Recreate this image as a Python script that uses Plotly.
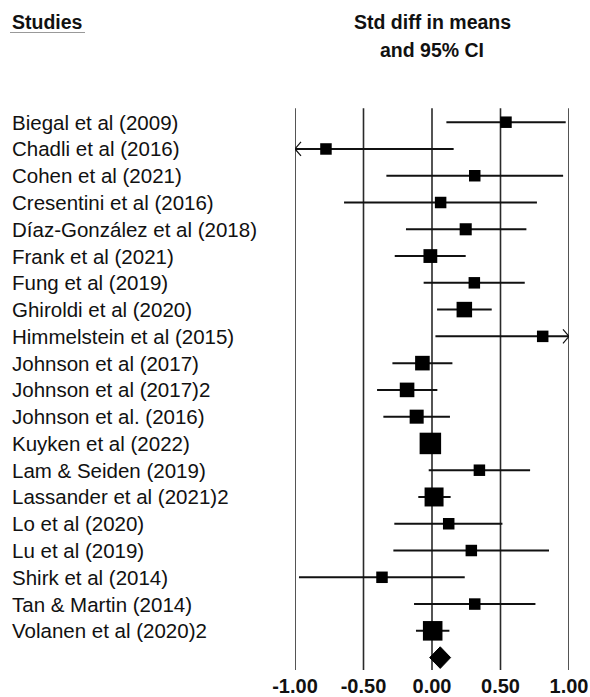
import plotly.graph_objects as go

# ---------------- data ----------------
studies = [
    "Biegal et al (2009)", "Chadli et al (2016)", "Cohen et al (2021)",
    "Cresentini et al (2016)", "Díaz-González et al (2018)", "Frank et al (2021)",
    "Fung et al (2019)", "Ghiroldi et al (2020)", "Himmelstein et al (2015)",
    "Johnson et al (2017)", "Johnson et al (2017)2", "Johnson et al. (2016)",
    "Kuyken et al (2022)", "Lam & Seiden (2019)", "Lassander et al (2021)2",
    "Lo et al (2020)", "Lu et al (2019)", "Shirk et al (2014)",
    "Tan & Martin (2014)", "Volanen et al (2020)2",
]
std_diff = [0.54, -0.774, 0.312, 0.063, 0.246, -0.012, 0.309, 0.236, 0.808, -0.070,
            -0.182, -0.112, -0.012, 0.346, 0.015, 0.122, 0.287, -0.365, 0.312, 0.005]
# values beyond the axis (<= -1 or >= 1) are shown clipped with an arrow
ci_lower = [0.105, -1.00, -0.333, -0.642, -0.190, -0.272, -0.061, 0.037, 0.025, -0.289,
            -0.401, -0.355, -0.070, -0.024, -0.100, -0.275, -0.282, -0.971, -0.131, -0.117]
ci_upper = [0.976, 0.158, 0.957, 0.766, 0.689, 0.246, 0.677, 0.436, 1.00, 0.149,
            0.039, 0.131, 0.050, 0.716, 0.136, 0.514, 0.854, 0.239, 0.755, 0.127]
relative_weight = [1.0, 1.0, 1.0, 1.0, 1.05, 1.2, 1.0, 1.35, 1.0, 1.27,
                   1.27, 1.22, 1.87, 1.0, 1.65, 1.0, 1.0, 1.0, 1.0, 1.7]
overall = {"est": 0.060, "lo": -0.017, "hi": 0.136}
tick_vals = [-1.0, -0.5, 0.0, 0.5, 1.0]
tick_text = ["-1.00", "-0.50", "0.00", "0.50", "1.00"]

# ---------------- layout constants ----------------
W, H = 590, 697
FONT = "Liberation Sans, Arial, sans-serif"
row_top_px, row_step_px = 122.2, 26.77
plot_top_px, plot_bot_px = 108.3, 670.0
x_left_px, x_right_px = 295.0, 569.0


def px_to_row(p):
    return 1 + (p - row_top_px) / row_step_px


rows = list(range(1, len(studies) + 1))
overall_row = len(studies) + 1

fig = go.Figure()

# vertical reference lines
for v in tick_vals:
    fig.add_shape(type="line", xref="x", yref="y domain", x0=v, x1=v, y0=0, y1=1,
                  line=dict(color="#2a2a2a", width=1.6), layer="below")

# CI lines
fig.add_trace(go.Scatter(
    x=std_diff, y=rows, mode="markers",
    marker=dict(size=1, color="rgba(0,0,0,0)", opacity=1),
    error_x=dict(type="data", symmetric=False,
                 array=[u - e for u, e in zip(ci_upper, std_diff)],
                 arrayminus=[e - l for e, l in zip(std_diff, ci_lower)],
                 color="#111", thickness=2, width=0),
    cliponaxis=False, showlegend=False, hoverinfo="skip"))

# boxes (size ~ study weight)
fig.add_trace(go.Scatter(
    x=std_diff, y=rows, mode="markers",
    marker=dict(symbol="square", color="black", opacity=1,
                size=[11.5 * w for w in relative_weight], line=dict(width=0)),
    cliponaxis=False, showlegend=False, hoverinfo="skip"))

# arrows for clipped CIs
dx = 6.0 / (x_right_px - x_left_px) * 2
dy = 7.0 / row_step_px
for r, lo, hi in zip(rows, ci_lower, ci_upper):
    if lo <= tick_vals[0]:
        fig.add_trace(go.Scatter(x=[lo + dx, lo, lo + dx], y=[r - dy, r, r + dy], mode="lines",
                                 line=dict(color="#111", width=1.2), cliponaxis=False,
                                 showlegend=False, hoverinfo="skip"))
    if hi >= tick_vals[-1]:
        fig.add_trace(go.Scatter(x=[hi - dx, hi, hi - dx], y=[r - dy, r, r + dy], mode="lines",
                                 line=dict(color="#111", width=1.2), cliponaxis=False,
                                 showlegend=False, hoverinfo="skip"))

# summary diamond
hd = 10.8 / row_step_px
fig.add_trace(go.Scatter(
    x=[overall["lo"], overall["est"], overall["hi"], overall["est"], overall["lo"]],
    y=[overall_row, overall_row - hd, overall_row, overall_row + hd, overall_row],
    mode="lines", fill="toself", fillcolor="black", line=dict(color="black", width=1),
    cliponaxis=False, showlegend=False, hoverinfo="skip"))

# study labels
for r, s in zip(rows, studies):
    fig.add_annotation(x=10 / W, xref="paper", y=r, yref="y", text=s, showarrow=False,
                       xanchor="left", yanchor="middle",
                       font=dict(family=FONT, size=20.5, color="#111"))

# headers
fig.add_annotation(x=10 / W, xref="paper", y=1 - 21.5 / H, yref="paper", text="<b>Studies</b>",
                   showarrow=False, xanchor="left", yanchor="middle",
                   font=dict(family=FONT, size=19.5, color="#111"))
fig.add_shape(type="line", xref="paper", yref="paper", x0=10 / W, x1=85 / W,
              y0=1 - 32.5 / H, y1=1 - 32.5 / H, line=dict(color="#999", width=1.2))
fig.add_annotation(x=0.0, xref="x", y=1 - 21.5 / H, yref="paper", text="<b>Std diff in means</b>",
                   showarrow=False, xanchor="center", yanchor="middle",
                   font=dict(family=FONT, size=19.5, color="#111"))
fig.add_annotation(x=0.0, xref="x", y=1 - 50 / H, yref="paper", text="<b>and 95% CI</b>",
                   showarrow=False, xanchor="center", yanchor="middle",
                   font=dict(family=FONT, size=19.5, color="#111"))

fig.update_layout(
    width=W, height=H, margin=dict(l=0, r=0, t=0, b=0, autoexpand=False),
    paper_bgcolor="white", plot_bgcolor="white",
    xaxis=dict(domain=[x_left_px / W, x_right_px / W], range=[-1, 1], automargin=False,
               tickvals=tick_vals, ticktext=tick_text, showgrid=False, zeroline=False,
               showline=False, ticks="", ticklabelstandoff=2,
               tickfont=dict(family=FONT, size=20, color="#111", weight="bold")),
    yaxis=dict(domain=[(H - plot_bot_px) / H, (H - plot_top_px) / H],
               range=[px_to_row(plot_bot_px), px_to_row(plot_top_px)], automargin=False,
               showgrid=False, zeroline=False, showticklabels=False, showline=False),
)

fig.write_html("out.html")
